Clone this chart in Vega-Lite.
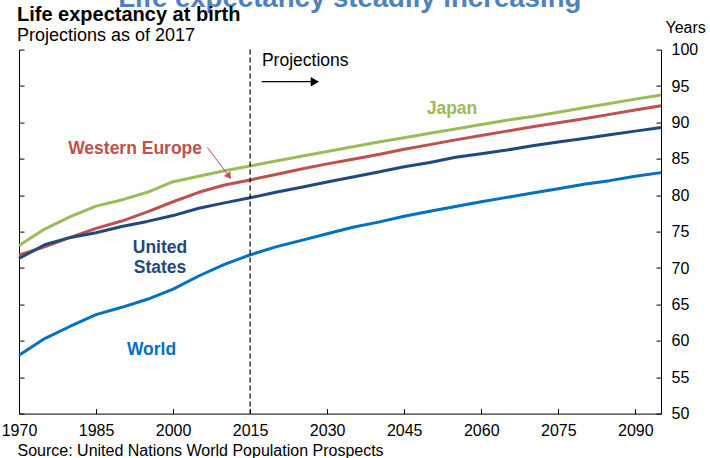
{
  "$schema": "https://vega.github.io/schema/vega-lite/v6.json",
  "autosize": "none",
  "width": 642,
  "height": 364,
  "padding": {"left": 19, "top": 49.6, "right": 49, "bottom": 44.4},
  "background": "white",
  "config": {"view": {"stroke": null}, "font": "Liberation Sans"},
  "datasets": {
    "series": [
      {"region": "World", "year": 1970, "value": 58.0},
      {"region": "World", "year": 1975, "value": 60.3},
      {"region": "World", "year": 1980, "value": 62.0},
      {"region": "World", "year": 1985, "value": 63.6},
      {"region": "World", "year": 1990, "value": 64.6},
      {"region": "World", "year": 1995, "value": 65.7},
      {"region": "World", "year": 2000, "value": 67.1},
      {"region": "World", "year": 2005, "value": 68.9},
      {"region": "World", "year": 2010, "value": 70.5},
      {"region": "World", "year": 2015, "value": 71.8},
      {"region": "World", "year": 2020, "value": 72.9},
      {"region": "World", "year": 2025, "value": 73.8},
      {"region": "World", "year": 2030, "value": 74.7},
      {"region": "World", "year": 2035, "value": 75.6},
      {"region": "World", "year": 2040, "value": 76.3},
      {"region": "World", "year": 2045, "value": 77.1},
      {"region": "World", "year": 2050, "value": 77.8},
      {"region": "World", "year": 2055, "value": 78.45},
      {"region": "World", "year": 2060, "value": 79.1},
      {"region": "World", "year": 2065, "value": 79.7},
      {"region": "World", "year": 2070, "value": 80.3},
      {"region": "World", "year": 2075, "value": 80.9},
      {"region": "World", "year": 2080, "value": 81.5},
      {"region": "World", "year": 2085, "value": 82.0},
      {"region": "World", "year": 2090, "value": 82.6},
      {"region": "World", "year": 2095, "value": 83.1},
      {"region": "Western Europe", "year": 1970, "value": 71.8},
      {"region": "Western Europe", "year": 1975, "value": 72.9},
      {"region": "Western Europe", "year": 1980, "value": 74.2},
      {"region": "Western Europe", "year": 1985, "value": 75.45},
      {"region": "Western Europe", "year": 1990, "value": 76.45},
      {"region": "Western Europe", "year": 1995, "value": 77.7},
      {"region": "Western Europe", "year": 2000, "value": 79.1},
      {"region": "Western Europe", "year": 2005, "value": 80.4},
      {"region": "Western Europe", "year": 2010, "value": 81.4},
      {"region": "Western Europe", "year": 2015, "value": 82.1},
      {"region": "Western Europe", "year": 2020, "value": 82.85},
      {"region": "Western Europe", "year": 2025, "value": 83.6},
      {"region": "Western Europe", "year": 2030, "value": 84.3},
      {"region": "Western Europe", "year": 2035, "value": 84.95},
      {"region": "Western Europe", "year": 2040, "value": 85.6},
      {"region": "Western Europe", "year": 2045, "value": 86.3},
      {"region": "Western Europe", "year": 2050, "value": 86.95},
      {"region": "Western Europe", "year": 2055, "value": 87.6},
      {"region": "Western Europe", "year": 2060, "value": 88.2},
      {"region": "Western Europe", "year": 2065, "value": 88.8},
      {"region": "Western Europe", "year": 2070, "value": 89.4},
      {"region": "Western Europe", "year": 2075, "value": 89.95},
      {"region": "Western Europe", "year": 2080, "value": 90.5},
      {"region": "Western Europe", "year": 2085, "value": 91.1},
      {"region": "Western Europe", "year": 2090, "value": 91.7},
      {"region": "Western Europe", "year": 2095, "value": 92.3},
      {"region": "United States", "year": 1970, "value": 71.3},
      {"region": "United States", "year": 1975, "value": 73.2},
      {"region": "United States", "year": 1980, "value": 74.2},
      {"region": "United States", "year": 1985, "value": 74.85},
      {"region": "United States", "year": 1990, "value": 75.7},
      {"region": "United States", "year": 1995, "value": 76.4},
      {"region": "United States", "year": 2000, "value": 77.2},
      {"region": "United States", "year": 2005, "value": 78.2},
      {"region": "United States", "year": 2010, "value": 78.95},
      {"region": "United States", "year": 2015, "value": 79.65},
      {"region": "United States", "year": 2020, "value": 80.4},
      {"region": "United States", "year": 2025, "value": 81.1},
      {"region": "United States", "year": 2030, "value": 81.8},
      {"region": "United States", "year": 2035, "value": 82.5},
      {"region": "United States", "year": 2040, "value": 83.2},
      {"region": "United States", "year": 2045, "value": 83.9},
      {"region": "United States", "year": 2050, "value": 84.5},
      {"region": "United States", "year": 2055, "value": 85.2},
      {"region": "United States", "year": 2060, "value": 85.7},
      {"region": "United States", "year": 2065, "value": 86.2},
      {"region": "United States", "year": 2070, "value": 86.8},
      {"region": "United States", "year": 2075, "value": 87.3},
      {"region": "United States", "year": 2080, "value": 87.8},
      {"region": "United States", "year": 2085, "value": 88.3},
      {"region": "United States", "year": 2090, "value": 88.8},
      {"region": "United States", "year": 2095, "value": 89.3},
      {"region": "Japan", "year": 1970, "value": 73.1},
      {"region": "Japan", "year": 1975, "value": 75.35},
      {"region": "Japan", "year": 1980, "value": 77.05},
      {"region": "Japan", "year": 1985, "value": 78.5},
      {"region": "Japan", "year": 1990, "value": 79.35},
      {"region": "Japan", "year": 1995, "value": 80.4},
      {"region": "Japan", "year": 2000, "value": 81.85},
      {"region": "Japan", "year": 2005, "value": 82.6},
      {"region": "Japan", "year": 2010, "value": 83.35},
      {"region": "Japan", "year": 2015, "value": 84.0},
      {"region": "Japan", "year": 2020, "value": 84.7},
      {"region": "Japan", "year": 2025, "value": 85.35},
      {"region": "Japan", "year": 2030, "value": 86.0},
      {"region": "Japan", "year": 2035, "value": 86.65},
      {"region": "Japan", "year": 2040, "value": 87.3},
      {"region": "Japan", "year": 2045, "value": 87.9},
      {"region": "Japan", "year": 2050, "value": 88.5},
      {"region": "Japan", "year": 2055, "value": 89.1},
      {"region": "Japan", "year": 2060, "value": 89.7},
      {"region": "Japan", "year": 2065, "value": 90.3},
      {"region": "Japan", "year": 2070, "value": 90.8},
      {"region": "Japan", "year": 2075, "value": 91.4},
      {"region": "Japan", "year": 2080, "value": 92.0},
      {"region": "Japan", "year": 2085, "value": 92.6},
      {"region": "Japan", "year": 2090, "value": 93.2},
      {"region": "Japan", "year": 2095, "value": 93.75}
    ],
    "labels": [
      {"region": "Japan", "label": "Japan", "year": 2054.3, "value": 91.8},
      {"region": "Western Europe", "label": "Western Europe", "year": 1992.6, "value": 86.3},
      {"region": "United States", "label": "United", "year": 1997.45, "value": 72.7},
      {"region": "United States", "label": "States", "year": 1997.45, "value": 70.0},
      {"region": "World", "label": "World", "year": 1995.8, "value": 58.74}
    ],
    "weArrow": [
      {"region": "Western Europe", "year": 2006.66, "value": 86.58, "year2": 2010.9, "value2": 82.6}
    ],
    "projArrow": [
      {"year": 2017.25, "value": 95.6, "year2": 2027.6}
    ],
    "projText": [
      {"label": "Projections", "year": 2017.3, "value": 98.5}
    ],
    "split": [{"year": 2015}],
    "title": [
      {"label": "Life expectancy at birth", "year": 1969.6, "value": 103.93}
    ],
    "subtitle": [
      {"label": "Projections as of 2017", "year": 1969.6, "value": 101.18}
    ],
    "header": [
      {"label": "Life expectancy steadily increasing", "year": 2034.4, "value": 105.8}
    ]
  },
  "layer": [
    {
      "data": {"name": "series"},
      "mark": {"type": "line", "strokeWidth": 3, "strokeJoin": "round"},
      "encoding": {
        "x": {
          "field": "year", "type": "quantitative",
          "scale": {"domain": [1970, 2095], "nice": false, "zero": false},
          "axis": {
            "values": [1970, 1985, 2000, 2015, 2030, 2045, 2060, 2075, 2090],
            "format": "d",
            "grid": false,
            "domainColor": "black",
            "domainWidth": 1,
            "tickColor": "black",
            "tickSize": -5,
            "labelPadding": 14,
            "labelFont": "Liberation Sans",
            "labelFontSize": 16,
            "labelColor": "black",
            "labelFlush": false,
            "labelOverlap": false,
            "title": "Source: United Nations World Population Prospects",
            "titleFont": "Liberation Sans",
            "titleFontSize": 16,
            "titleFontWeight": "normal",
            "titleColor": "black",
            "titleAnchor": "start",
            "titleAlign": "left",
            "titleBaseline": "alphabetic",
            "titleX": -2,
            "titleY": 41.4
          }
        },
        "y": {
          "field": "value", "type": "quantitative",
          "scale": {"domain": [50, 100], "nice": false, "zero": false},
          "axis": {
            "orient": "right",
            "values": [50, 55, 60, 65, 70, 75, 80, 85, 90, 95, 100],
            "grid": false,
            "domainColor": "black",
            "domainWidth": 1,
            "tickColor": "black",
            "tickSize": -5,
            "labelPadding": 15,
            "labelFont": "Liberation Sans",
            "labelFontSize": 16,
            "labelColor": "black",
            "labelAlign": "left",
            "labelBaseline": "middle",
            "labelOverlap": false,
            "title": "Years",
            "titleFont": "Liberation Sans",
            "titleFontSize": 16,
            "titleFontWeight": "normal",
            "titleColor": "black",
            "titleAngle": 0,
            "titleAlign": "left",
            "titleBaseline": "middle",
            "titleX": 4,
            "titleY": -22.3
          }
        },
        "color": {
          "field": "region", "type": "nominal",
          "scale": {"domain": ["World", "Western Europe", "United States", "Japan"], "range": ["#0070c0", "#c0504d", "#1f497d", "#9bbb59"]},
          "legend": null
        },
        "strokeWidth": {
          "field": "region", "type": "nominal",
          "scale": {"domain": ["World", "Western Europe", "United States", "Japan"], "range": [4.6, 3, 2.8, 3]},
          "legend": null
        },
        "order": {"field": "year", "type": "quantitative"}
      }
    },
    {
      "data": {"name": "split"},
      "mark": {"type": "rule", "color": "black", "strokeWidth": 1.2, "strokeDash": [5, 3]},
      "encoding": {
        "x": {"field": "year", "type": "quantitative"}
      }
    },
    {
      "data": {"name": "labels"},
      "mark": {"type": "text", "font": "Liberation Sans", "fontSize": 17.5, "fontWeight": "bold", "align": "center", "baseline": "middle"},
      "encoding": {
        "x": {"field": "year", "type": "quantitative"},
        "y": {
          "field": "value", "type": "quantitative",
          "axis": {
            "orient": "left",
            "values": [50, 55, 60, 65, 70, 75, 80, 85, 90, 95, 100],
            "grid": false,
            "labels": false,
            "title": null,
            "domainColor": "black",
            "domainWidth": 1,
            "tickColor": "black",
            "tickSize": -5
          }
        },
        "text": {"field": "label"},
        "color": {"field": "region", "type": "nominal", "legend": null}
      }
    },
    {
      "data": {"name": "weArrow"},
      "mark": {"type": "rule", "strokeWidth": 1},
      "encoding": {
        "x": {"field": "year", "type": "quantitative"},
        "y": {"field": "value", "type": "quantitative", "axis": null},
        "x2": {"field": "year2"},
        "y2": {"field": "value2"},
        "color": {"field": "region", "type": "nominal", "legend": null}
      }
    },
    {
      "data": {"name": "weArrow"},
      "mark": {"type": "point", "shape": "triangle-down", "filled": true, "size": 60, "angle": 323, "opacity": 1},
      "encoding": {
        "x": {"field": "year2", "type": "quantitative"},
        "y": {"field": "value2", "type": "quantitative", "axis": null},
        "color": {"field": "region", "type": "nominal", "legend": null}
      }
    },
    {
      "data": {"name": "projArrow"},
      "mark": {"type": "rule", "color": "black", "strokeWidth": 1.2},
      "encoding": {
        "x": {"field": "year", "type": "quantitative"},
        "x2": {"field": "year2"},
        "y": {"field": "value", "type": "quantitative", "axis": null}
      }
    },
    {
      "data": {"name": "projArrow"},
      "mark": {"type": "point", "shape": "triangle-right", "filled": true, "size": 90, "color": "black", "opacity": 1},
      "encoding": {
        "x": {"field": "year2", "type": "quantitative"},
        "y": {"field": "value", "type": "quantitative", "axis": null}
      }
    },
    {
      "data": {"name": "projText"},
      "mark": {"type": "text", "font": "Liberation Sans", "fontSize": 17.5, "align": "left", "baseline": "middle", "color": "black"},
      "encoding": {
        "x": {"field": "year", "type": "quantitative"},
        "y": {"field": "value", "type": "quantitative", "axis": null},
        "text": {"field": "label"}
      }
    },
    {
      "data": {"name": "header"},
      "mark": {"type": "text", "font": "Liberation Sans", "fontSize": 27.6, "fontWeight": "bold", "align": "center", "baseline": "alphabetic", "color": "#4f81bd"},
      "encoding": {
        "x": {"field": "year", "type": "quantitative"},
        "y": {"field": "value", "type": "quantitative", "axis": null},
        "text": {"field": "label"}
      }
    },
    {
      "data": {"name": "title"},
      "mark": {"type": "text", "font": "Liberation Sans", "fontSize": 20, "fontWeight": "bold", "align": "left", "baseline": "alphabetic", "color": "black"},
      "encoding": {
        "x": {"field": "year", "type": "quantitative"},
        "y": {"field": "value", "type": "quantitative", "axis": null},
        "text": {"field": "label"}
      }
    },
    {
      "data": {"name": "subtitle"},
      "mark": {"type": "text", "font": "Liberation Sans", "fontSize": 18, "fontWeight": "normal", "align": "left", "baseline": "alphabetic", "color": "black"},
      "encoding": {
        "x": {"field": "year", "type": "quantitative"},
        "y": {"field": "value", "type": "quantitative", "axis": null},
        "text": {"field": "label"}
      }
    }
  ],
  "resolve": {"axis": {"y": "independent"}}
}
